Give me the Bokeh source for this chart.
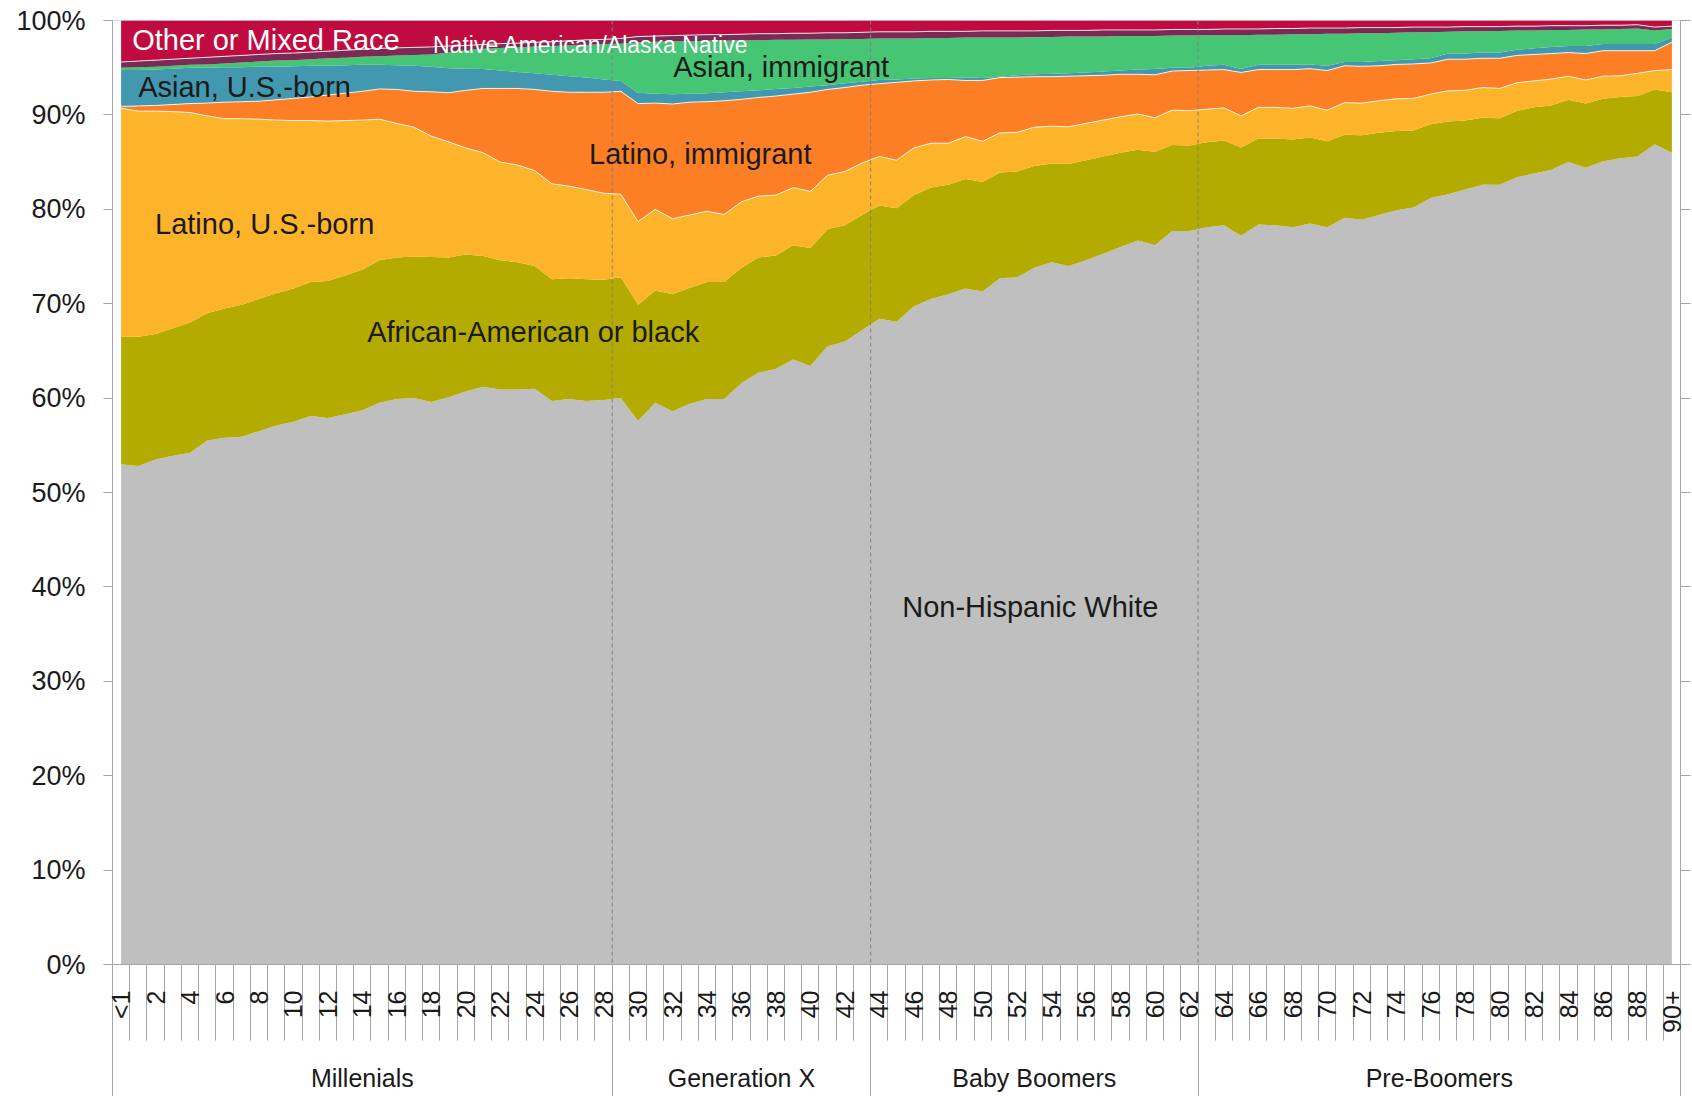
import math
from bokeh.plotting import figure
from bokeh.models import (ColumnDataSource, Range1d, LinearAxis, FixedTicker,
                          PrintfTickFormatter, Span, Label)
from bokeh.transform import stack
from bokeh.embed import file_html
from bokeh.resources import INLINE

# ---------------- data ----------------
age_labels = ["<1"] + [str(a) for a in range(1, 90)] + ["90+"]

white = [53.0, 52.8, 53.5, 53.9, 54.2, 55.5, 55.8, 55.9, 56.5, 57.1,
         57.5, 58.1, 57.9, 58.3, 58.7, 59.5, 59.9, 60.0, 59.6, 60.1,
         60.7, 61.2, 60.9, 60.9, 61.0, 59.7, 59.9, 59.7, 59.8, 60.0,
         57.6, 59.5, 58.6, 59.4, 59.9, 59.9, 61.6, 62.7, 63.1, 64.1,
         63.4, 65.5, 66.0, 67.2, 68.4, 68.1, 69.7, 70.5, 71.0, 71.6,
         71.3, 72.7, 72.8, 73.8, 74.4, 74.0, 74.6, 75.3, 76.0, 76.7,
         76.2, 77.7, 77.7, 78.1, 78.3, 77.2, 78.4, 78.3, 78.1, 78.5,
         78.1, 79.1, 78.9, 79.4, 79.9, 80.2, 81.2, 81.6, 82.1, 82.6,
         82.6, 83.4, 83.8, 84.2, 85.0, 84.4, 85.1, 85.4, 85.6, 86.9,
         86.0]
black = [13.5, 13.7, 13.3, 13.5, 13.8, 13.5, 13.7, 14.0, 14.0, 14.0,
         14.1, 14.2, 14.5, 14.7, 14.9, 15.1, 15.0, 15.0, 15.35, 14.8,
         14.5, 13.85, 13.7, 13.5, 13.0, 12.9, 12.8, 12.9, 12.75, 12.8,
         12.3, 11.9, 12.4, 12.3, 12.4, 12.4, 12.2, 12.2, 12.0, 12.1,
         12.5, 12.4, 12.3, 12.2, 12.0, 12.0, 11.8, 11.8, 11.6, 11.6,
         11.6, 11.2, 11.2, 10.8, 10.45, 10.8, 10.6, 10.3, 10.0, 9.6,
         9.9, 9.1, 9.05, 9.0, 9.0, 9.35, 9.1, 9.2, 9.3, 9.1,
         9.1, 8.8, 8.95, 8.7, 8.4, 8.15, 7.8, 7.7, 7.3, 7.1,
         7.05, 7.0, 7.0, 6.8, 6.6, 6.8, 6.6, 6.5, 6.4, 5.8,
         6.4]
latino_us = [24.2, 23.9, 23.6, 22.95, 22.25, 20.9, 20.1, 19.7, 19.05, 18.35,
             17.8, 17.1, 16.95, 16.4, 15.85, 14.95, 14.2, 13.7, 12.8, 12.25,
             11.3, 10.95, 10.4, 10.3, 10.1, 10.1, 9.75, 9.5, 9.15, 8.8,
             8.8, 8.6, 8.0, 7.7, 7.5, 7.15, 7.0, 6.5, 6.4, 6.1,
             6.0, 5.7, 5.7, 5.5, 5.2, 5.1, 5.0, 4.7, 4.4, 4.5,
             4.3, 4.2, 4.15, 4.1, 3.95, 3.95, 3.9, 3.85, 3.8, 3.8,
             3.6, 3.7, 3.7, 3.5, 3.45, 3.35, 3.3, 3.3, 3.3, 3.35,
             3.3, 3.4, 3.4, 3.4, 3.4, 3.4, 3.2, 3.25, 3.2, 3.2,
             3.15, 3.0, 2.8, 2.8, 2.5, 2.5, 2.4, 2.25, 2.4, 2.0,
             2.4]
latino_imm = [0.2, 0.55, 0.6, 0.75, 0.95, 1.35, 1.75, 1.8, 1.9, 2.15,
              2.35, 2.5, 2.75, 2.9, 3.05, 3.2, 3.6, 3.8, 4.7, 5.2,
              6.1, 6.8, 7.8, 8.1, 8.6, 9.8, 9.95, 10.3, 10.7, 10.9,
              12.5, 11.25, 12.15, 11.95, 11.6, 12.05, 10.85, 10.45, 10.5, 9.9,
              10.5, 9.1, 8.9, 8.25, 7.7, 8.25, 7.1, 6.7, 6.75, 5.95,
              6.45, 5.85, 5.85, 5.35, 5.25, 5.35, 5.05, 4.75, 4.5, 4.2,
              4.55, 4.15, 4.25, 4.15, 4.05, 4.6, 4.0, 4.0, 4.1, 3.95,
              4.2, 3.9, 3.9, 3.7, 3.65, 3.65, 3.3, 3.35, 3.3, 3.1,
              3.2, 2.9, 2.8, 2.7, 2.5, 2.8, 2.7, 2.65, 2.4, 2.1,
              2.9]
asian_us = [3.85, 3.8, 3.8, 3.8, 3.8, 3.75, 3.7, 3.65, 3.65, 3.5,
            3.4, 3.3, 3.1, 2.95, 2.8, 2.55, 2.55, 2.7, 2.65, 2.6,
            2.3, 2.05, 1.9, 1.75, 1.7, 1.75, 1.7, 1.55, 1.35, 1.1,
            1.15, 1.0, 1.05, 0.9, 0.9, 0.9, 0.85, 0.75, 0.75, 0.65,
            0.6, 0.45, 0.45, 0.35, 0.4, 0.3, 0.25, 0.2, 0.15, 0.3,
            0.25, 0.1, 0.2, 0.25, 0.3, 0.3, 0.35, 0.4, 0.4, 0.5,
            0.6, 0.35, 0.3, 0.45, 0.5, 0.35, 0.5, 0.5, 0.5, 0.45,
            0.5, 0.4, 0.45, 0.5, 0.45, 0.5, 0.5, 0.6, 0.6, 0.6,
            0.6, 0.6, 0.65, 0.7, 0.7, 0.8, 0.7, 0.7, 0.7, 0.7,
            0.5]
asian_imm = [0.25, 0.3, 0.3, 0.3, 0.3, 0.35, 0.4, 0.5, 0.55, 0.65,
             0.65, 0.7, 0.8, 0.8, 0.85, 0.9, 1.05, 1.15, 1.3, 1.65,
             1.95, 2.15, 2.4, 2.6, 2.85, 3.05, 3.25, 3.45, 3.75, 3.95,
             5.35, 5.5, 5.6, 5.55, 5.55, 5.45, 5.4, 5.3, 5.2, 5.1,
             5.0, 4.85, 4.7, 4.55, 4.4, 4.35, 4.25, 4.25, 4.25, 4.25,
             4.3, 4.15, 4.0, 3.95, 3.9, 3.9, 3.8, 3.7, 3.65, 3.55,
             3.5, 3.4, 3.4, 3.25, 3.15, 3.6, 3.2, 3.2, 3.25, 3.2,
             3.4, 3.0, 3.05, 2.95, 2.9, 2.85, 2.75, 2.3, 2.35, 2.25,
             2.3, 2.05, 1.9, 1.8, 1.7, 1.75, 1.55, 1.6, 1.65, 1.45,
             0.9]
native = [0.6, 0.65, 0.7, 0.7, 0.7, 0.75, 0.75, 0.75, 0.75, 0.75,
          0.75, 0.75, 0.75, 0.8, 0.8, 0.85, 0.8, 0.8, 0.8, 0.7,
          0.5, 0.45, 0.45, 0.45, 0.45, 0.45, 0.5, 0.55, 0.5, 0.55,
          0.6, 0.6, 0.6, 0.65, 0.65, 0.65, 0.65, 0.7, 0.65, 0.7,
          0.65, 0.7, 0.65, 0.7, 0.7, 0.7, 0.7, 0.7, 0.7, 0.65,
          0.7, 0.7, 0.7, 0.65, 0.7, 0.65, 0.65, 0.7, 0.65, 0.65,
          0.65, 0.65, 0.65, 0.6, 0.65, 0.65, 0.6, 0.65, 0.6, 0.65,
          0.6, 0.6, 0.6, 0.6, 0.55, 0.55, 0.55, 0.5, 0.5, 0.5,
          0.45, 0.45, 0.45, 0.45, 0.45, 0.4, 0.45, 0.4, 0.4, 0.35,
          0.3]
other = [4.4, 4.3, 4.2, 4.1, 4.0, 3.9, 3.8, 3.7, 3.6, 3.5,
         3.45, 3.35, 3.25, 3.15, 3.05, 2.95, 2.9, 2.85, 2.8, 2.7,
         2.65, 2.55, 2.45, 2.4, 2.3, 2.25, 2.15, 2.05, 2.0, 1.9,
         1.7, 1.65, 1.6, 1.55, 1.5, 1.5, 1.45, 1.4, 1.4, 1.35,
         1.35, 1.3, 1.3, 1.25, 1.2, 1.2, 1.2, 1.15, 1.15, 1.15,
         1.1, 1.1, 1.1, 1.1, 1.05, 1.05, 1.05, 1.0, 1.0, 1.0,
         1.0, 0.95, 0.95, 0.95, 0.9, 0.9, 0.9, 0.85, 0.85, 0.8,
         0.8, 0.8, 0.75, 0.75, 0.75, 0.7, 0.7, 0.7, 0.65, 0.65,
         0.65, 0.6, 0.6, 0.55, 0.55, 0.55, 0.5, 0.5, 0.45, 0.7,
         0.6]

series_names = ["white", "black", "latino_us", "latino_imm",
                "asian_us", "asian_imm", "native", "other"]
series_colors = ["#BFBFBF", "#B4AB00", "#FDB42A", "#FC7F25",
                 "#4298AF", "#46C575", "#7B2A55", "#C00B40"]

generations = ["Millenials", "Generation X", "Baby Boomers", "Pre-Boomers"]
generation_first = [0, 29, 44, 63]     # index of first age class in group
generation_last = [28, 43, 62, 90]     # index of last age class in group

pct_ticks = [0, 10, 20, 30, 40, 50, 60, 70, 80, 90, 100]

# ---------------- build ----------------
x = list(range(len(age_labels)))
src = ColumnDataSource(dict(x=x, white=white, black=black, latino_us=latino_us,
                            latino_imm=latino_imm, asian_us=asian_us,
                            asian_imm=asian_imm, native=native, other=other))

FONT = "Liberation Sans"
GRAY = "#A6A6A6"
TXT = "#1A1A1A"

p = figure(width=1692, height=1096,
           x_range=Range1d(-0.5, len(age_labels) - 0.5), y_range=Range1d(0, 100),
           x_axis_type=None, y_axis_type=None,
           toolbar_location=None, output_backend="svg",
           min_border_left=112, min_border_right=12, min_border_top=20,
           min_border_bottom=132)
p.grid.visible = False
p.outline_line_color = "#D9D9D9"
p.background_fill_color = "white"
p.border_fill_color = "white"

p.varea_stack(stackers=series_names, x="x", color=series_colors, source=src)

# thin white separators
for upto in (3, 4, 7):
    p.line(x="x", y=stack(*series_names[:upto]), source=src,
           line_color="white", line_width=1, line_alpha=0.85)

# generation dashed boundaries
edges = [generation_first[0] - 0.5] + [l + 0.5 for l in generation_last]
for b in edges[1:-1]:
    p.add_layout(Span(location=b, dimension="height", line_color="#808080",
                      line_dash="4 3", line_width=1))

# left axis
ya = LinearAxis(ticker=FixedTicker(ticks=pct_ticks),
                formatter=PrintfTickFormatter(format="%d%%"))
ya.major_tick_out = 9
ya.major_tick_in = 0
ya.minor_tick_out = 0
ya.minor_tick_in = 0
ya.axis_line_color = GRAY
ya.major_tick_line_color = GRAY
ya.major_label_standoff = 18
ya.major_label_text_font = FONT
ya.major_label_text_font_size = "27px"
ya.major_label_text_color = TXT
p.add_layout(ya, "left")

# right axis (ticks only)
ya2 = LinearAxis(ticker=FixedTicker(ticks=pct_ticks))
ya2.major_tick_out = 10
ya2.major_tick_in = 0
ya2.minor_tick_out = 0
ya2.minor_tick_in = 0
ya2.axis_line_color = GRAY
ya2.major_tick_line_color = GRAY
ya2.major_label_standoff = 0
ya2.major_label_text_font_size = "0px"
ya2.major_label_text_alpha = 0
p.add_layout(ya2, "right")

# bottom axis: age labels, tick marks between age classes
label_pos = x[::2]
boundaries = [i - 0.5 for i in range(len(age_labels) + 1)]
xa = LinearAxis(ticker=FixedTicker(ticks=label_pos, minor_ticks=boundaries))
xa.major_label_overrides = {i: age_labels[i] for i in label_pos}
xa.major_tick_line_color = None
xa.major_tick_out = 0
xa.major_tick_in = 0
xa.minor_tick_line_color = GRAY
xa.minor_tick_out = 76
xa.minor_tick_in = 0
xa.axis_line_color = GRAY
xa.major_label_orientation = math.pi / 2
xa.major_label_standoff = -50
xa.major_label_text_font = FONT
xa.major_label_text_font_size = "25px"
xa.major_label_text_color = TXT
p.add_layout(xa, "below")

# second bottom axis: generation names with separators
centers = [(f + l) / 2 for f, l in zip(generation_first, generation_last)]
ga = LinearAxis(ticker=FixedTicker(ticks=centers, minor_ticks=edges))
ga.major_label_overrides = {c: g for c, g in zip(centers, generations)}
ga.axis_line_color = None
ga.major_tick_line_color = None
ga.major_tick_out = 0
ga.major_tick_in = 0
ga.minor_tick_line_color = GRAY
ga.minor_tick_out = 70
ga.minor_tick_in = 0
ga.major_label_standoff = -42
ga.major_label_text_font = FONT
ga.major_label_text_font_size = "25px"
ga.major_label_text_color = TXT
p.add_layout(ga, "below")

# series labels
def lab(txt, xx, yy, color=TXT, size="29px"):
    p.add_layout(Label(x=xx, y=yy, text=txt, text_align="left",
                       text_baseline="middle", text_font=FONT,
                       text_font_size=size, text_color=color))

lab("Other or Mixed Race", 0.64, 97.9, color="white")
lab("Native American/Alaska Native", 18.1, 97.45, color="white", size="23px")
lab("Asian, U.S.-born", 0.99, 92.95)
lab("Latino, U.S.-born", 1.97, 78.4)
lab("African-American or black", 14.28, 67.05)
lab("Latino, immigrant", 27.16, 85.85)
lab("Asian, immigrant", 32.04, 95.07)
lab("Non-Hispanic White", 45.33, 37.86)

open("out.html", "w").write(file_html(p, INLINE))
